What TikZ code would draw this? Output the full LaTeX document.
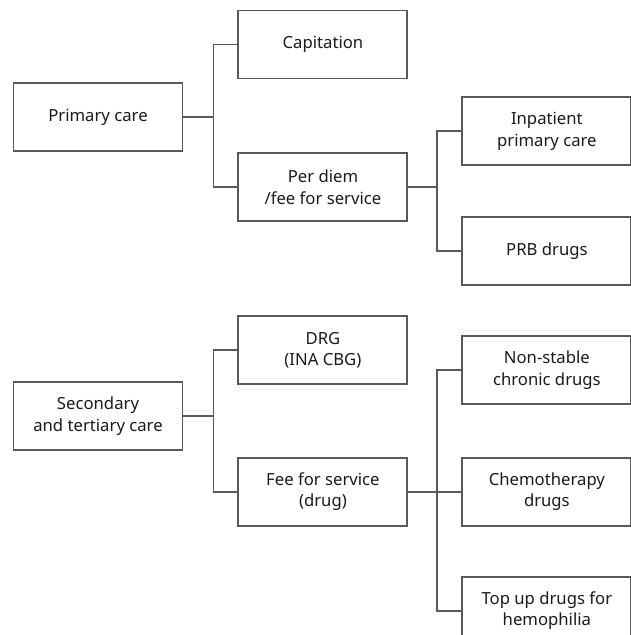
\documentclass[tikz,border=0pt]{standalone}
\usepackage{fontspec}
\setmainfont{Noto Sans}
\usetikzlibrary{positioning}
\definecolor{payLine}{HTML}{595959}
\definecolor{payText}{HTML}{1A1A1A}

\begin{document}
\begin{tikzpicture}[
  box/.style={draw=payLine, line width=1.1pt, align=center, font=\fontsize{9.5}{12.3}\selectfont, text=payText, minimum width=3.38cm, minimum height=1.36cm, inner sep=2pt},
  link/.style={draw=payLine, line width=1.1pt}
]
\useasboundingbox (0,0) rectangle (12.62,-12.70);

% primary care branch
\node[box] at (1.96,-2.34) (prim) {Primary care};
\node[box, right=1.08cm of prim, yshift=1.45cm] (cap) {Capitation};
\node[box, below=1.45cm of cap] (perdiem) {Per diem\\/fee for service};
\node[box, right=1.06cm of perdiem, yshift=1.11cm] (inpat) {Inpatient\\primary care};
\node[box, below=1.0cm of inpat] (prb) {PRB drugs};

% secondary and tertiary care branch
\node[box, below=4.58cm of prim] (sec) {Secondary\\and tertiary care};
\node[box, below=1.87cm of perdiem] (drg) {DRG\\(INA CBG)};
\node[box, below=1.43cm of drg] (ffs) {Fee for service\\(drug)};
\node[box, right=1.06cm of drg, yshift=-0.4cm] (nonst) {Non-stable\\chronic drugs};
\node[box, right=1.06cm of ffs] (chemo) {Chemotherapy\\drugs};
\node[box, below=0.98cm of chemo] (topup) {Top up drugs for\\hemophilia};

\draw[link] (prim.east) -- ++(0.6,0) |- (cap.west);
\draw[link] (prim.east) -- ++(0.6,0) |- (perdiem.west);
\draw[link] (perdiem.east) -- ++(0.58,0) |- (inpat.west);
\draw[link] (perdiem.east) -- ++(0.58,0) |- (prb.west);

\draw[link] (sec.east) -- ++(0.6,0) |- (drg.west);
\draw[link] (sec.east) -- ++(0.6,0) |- (ffs.west);
\draw[link] (ffs.east) -- ++(0.58,0) |- (nonst.west);
\draw[link] (ffs.east) -- (chemo.west);
\draw[link] (ffs.east) -- ++(0.58,0) |- (topup.west);
\end{tikzpicture}
\end{document}
